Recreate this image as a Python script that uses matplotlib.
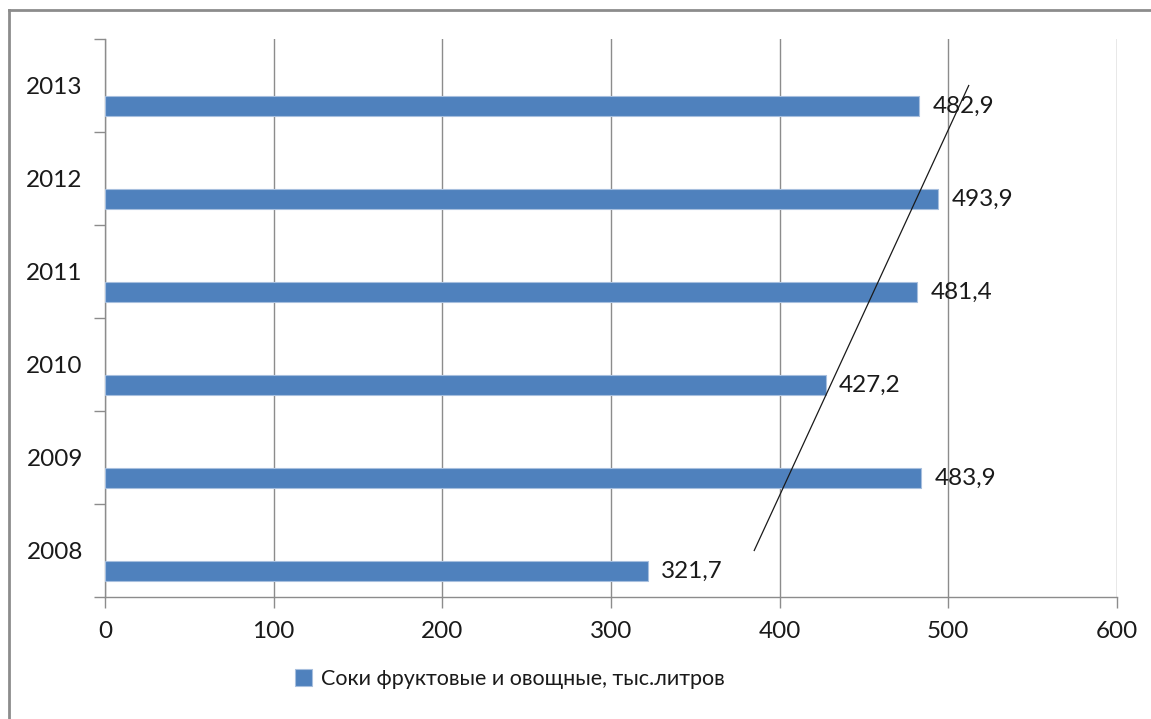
import numpy as np
import matplotlib.pyplot as plt
from matplotlib.lines import Line2D

years = ["2008", "2009", "2010", "2011", "2012", "2013"]
values = [321.7, 483.9, 427.2, 481.4, 493.9, 482.9]
value_labels = ["321,7", "483,9", "427,2", "481,4", "493,9", "482,9"]
series_name = "Соки фруктовые и овощные, тыс.литров"
x_ticks = [0, 100, 200, 300, 400, 500, 600]

plt.rcParams['font.family'] = ['Lato', 'DejaVu Sans']
plt.rcParams['font.size'] = 17.5

fig = plt.figure(figsize=(11.51, 7.19), dpi=100)
ax = fig.add_axes([105 / 1151, 1 - 597 / 719, 1012 / 1151, 558 / 719])

pos = np.arange(len(years))
bar_color = "#4F81BD"
ax.barh(pos - 0.225, values, height=0.215, color=bar_color,
        edgecolor="#A7BFDE", linewidth=0.8, zorder=3, label=series_name)

for p, v, lab in zip(pos, values, value_labels):
    ax.text(v + 8, p - 0.225, lab, va="center", ha="left", color="#1a1a1a", zorder=4)

# linear trend line
k, b = np.polyfit(pos, values, 1)
ax.plot(k * pos + b, pos, color="#1a1a1a", linewidth=0.9, zorder=5)

ax.set_xlim(0, 600)
ax.set_ylim(-0.5, 5.5)
ax.set_xticks(x_ticks)
ax.set_xticklabels([str(t) for t in x_ticks])
ax.set_yticks(pos)
ax.set_yticklabels(years)
ax.set_yticks(np.arange(-0.5, 6, 1), minor=True)

grid_color = "#8c8c8c"
ax.grid(axis="x", color=grid_color, linewidth=1.0, zorder=0)
for s in ["top", "right"]:
    ax.spines[s].set_visible(False)
for s in ["left", "bottom"]:
    ax.spines[s].set_color(grid_color)
    ax.spines[s].set_linewidth(1.0)

ax.tick_params(axis="y", which="major", length=0, pad=16, colors="#1a1a1a")
ax.tick_params(axis="y", which="minor", length=8, color=grid_color, width=1.0)
ax.tick_params(axis="x", which="major", length=8, color=grid_color, width=1.0,
               pad=9, labelcolor="#1a1a1a")

fig.legend(loc="center", bbox_to_anchor=(510 / 1151, 1 - 679 / 719), frameon=False,
           fontsize=15.5, handlelength=0.8, handleheight=0.8, handletextpad=0.4,
           labelcolor="#1a1a1a")

# outer frame (top and left edges visible)
fig.add_artist(Line2D([9 / 1151, 1.0], [1 - 10 / 719, 1 - 10 / 719],
                      transform=fig.transFigure, color="#8c8c8c", linewidth=2))
fig.add_artist(Line2D([9 / 1151, 9 / 1151], [0, 1 - 10 / 719],
                      transform=fig.transFigure, color="#8c8c8c", linewidth=2))

fig.savefig("out.png", dpi=100)
